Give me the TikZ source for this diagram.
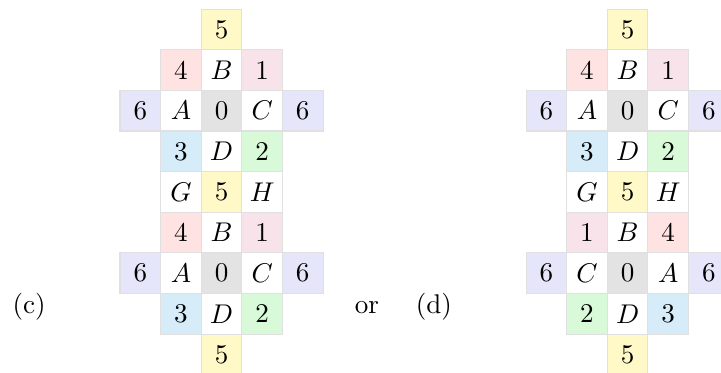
\documentclass[tikz,border=0pt]{standalone}
\usepackage{amsmath,amssymb}
\usepackage{tikz}
\usetikzlibrary{positioning}

\definecolor{fiveyellow}{HTML}{FFF9C8}
\definecolor{fourred}{HTML}{FFE3E3}
\definecolor{onepink}{HTML}{F9E3EA}
\definecolor{sixblue}{HTML}{E6E6FB}
\definecolor{threecyan}{HTML}{D6ECF9}
\definecolor{twogreen}{HTML}{D8FAD8}
\definecolor{zerogray}{HTML}{E3E3E3}

\begin{document}
\begin{tikzpicture}[
    x=15pt, y=15pt,
    cellbox/.style={draw=black!12, line width=0.4pt, minimum size=15pt, inner sep=0pt},
    letterbox/.style={cellbox, fill=white},
    zerobox/.style={cellbox, fill=zerogray},
    onebox/.style={cellbox, fill=onepink},
    twobox/.style={cellbox, fill=twogreen},
    threebox/.style={cellbox, fill=threecyan},
    fourbox/.style={cellbox, fill=fourred},
    fivebox/.style={cellbox, fill=fiveyellow},
    sixbox/.style={cellbox, fill=sixblue},
    lbl/.style={anchor=base, inner sep=0pt},
  ]
  \useasboundingbox (-5.456,-8.436) rectangle (12.30,0.727);

  % (c)
  \node[fivebox]   (c-0-3) at (0,0)  {5};
  \node[fourbox]   (c-1-2) at (-1,-1) {4};
  \node[letterbox] (c-1-3) at (0,-1)  {$B$};
  \node[onebox]    (c-1-4) at (1,-1)  {1};
  \node[sixbox]    (c-2-1) at (-2,-2) {6};
  \node[letterbox] (c-2-2) at (-1,-2) {$A$};
  \node[zerobox]   (c-2-3) at (0,-2)  {0};
  \node[letterbox] (c-2-4) at (1,-2)  {$C$};
  \node[sixbox]    (c-2-5) at (2,-2)  {6};
  \node[threebox]  (c-3-2) at (-1,-3) {3};
  \node[letterbox] (c-3-3) at (0,-3)  {$D$};
  \node[twobox]    (c-3-4) at (1,-3)  {2};
  \node[letterbox] (c-4-2) at (-1,-4) {$G$};
  \node[fivebox]   (c-4-3) at (0,-4)  {5};
  \node[letterbox] (c-4-4) at (1,-4)  {$H$};
  \node[fourbox]   (c-5-2) at (-1,-5) {4};
  \node[letterbox] (c-5-3) at (0,-5)  {$B$};
  \node[onebox]    (c-5-4) at (1,-5)  {1};
  \node[sixbox]    (c-6-1) at (-2,-6) {6};
  \node[letterbox] (c-6-2) at (-1,-6) {$A$};
  \node[zerobox]   (c-6-3) at (0,-6)  {0};
  \node[letterbox] (c-6-4) at (1,-6)  {$C$};
  \node[sixbox]    (c-6-5) at (2,-6)  {6};
  \node[threebox]  (c-7-2) at (-1,-7) {3};
  \node[letterbox] (c-7-3) at (0,-7)  {$D$};
  \node[twobox]    (c-7-4) at (1,-7)  {2};
  \node[fivebox]   (c-8-3) at (0,-8)  {5};

  % (d)
  \node[fivebox]   (d-0-3) at (10,0)  {5};
  \node[fourbox]   (d-1-2) at (9,-1)  {4};
  \node[letterbox] (d-1-3) at (10,-1) {$B$};
  \node[onebox]    (d-1-4) at (11,-1) {1};
  \node[sixbox]    (d-2-1) at (8,-2)  {6};
  \node[letterbox] (d-2-2) at (9,-2)  {$A$};
  \node[zerobox]   (d-2-3) at (10,-2) {0};
  \node[letterbox] (d-2-4) at (11,-2) {$C$};
  \node[sixbox]    (d-2-5) at (12,-2) {6};
  \node[threebox]  (d-3-2) at (9,-3)  {3};
  \node[letterbox] (d-3-3) at (10,-3) {$D$};
  \node[twobox]    (d-3-4) at (11,-3) {2};
  \node[letterbox] (d-4-2) at (9,-4)  {$G$};
  \node[fivebox]   (d-4-3) at (10,-4) {5};
  \node[letterbox] (d-4-4) at (11,-4) {$H$};
  \node[onebox]    (d-5-2) at (9,-5)  {1};
  \node[letterbox] (d-5-3) at (10,-5) {$B$};
  \node[fourbox]   (d-5-4) at (11,-5) {4};
  \node[sixbox]    (d-6-1) at (8,-6)  {6};
  \node[letterbox] (d-6-2) at (9,-6)  {$C$};
  \node[zerobox]   (d-6-3) at (10,-6) {0};
  \node[letterbox] (d-6-4) at (11,-6) {$A$};
  \node[sixbox]    (d-6-5) at (12,-6) {6};
  \node[twobox]    (d-7-2) at (9,-7)  {2};
  \node[letterbox] (d-7-3) at (10,-7) {$D$};
  \node[threebox]  (d-7-4) at (11,-7) {3};
  \node[fivebox]   (d-8-3) at (10,-8) {5};

  \node[lbl] (lc) at (-4.74,-6.99) {(c)};
  \node[lbl] (lor) at (3.58,-6.99) {or};
  \node[lbl] (ld) at (5.23,-6.99) {(d)};
\end{tikzpicture}
\end{document}
